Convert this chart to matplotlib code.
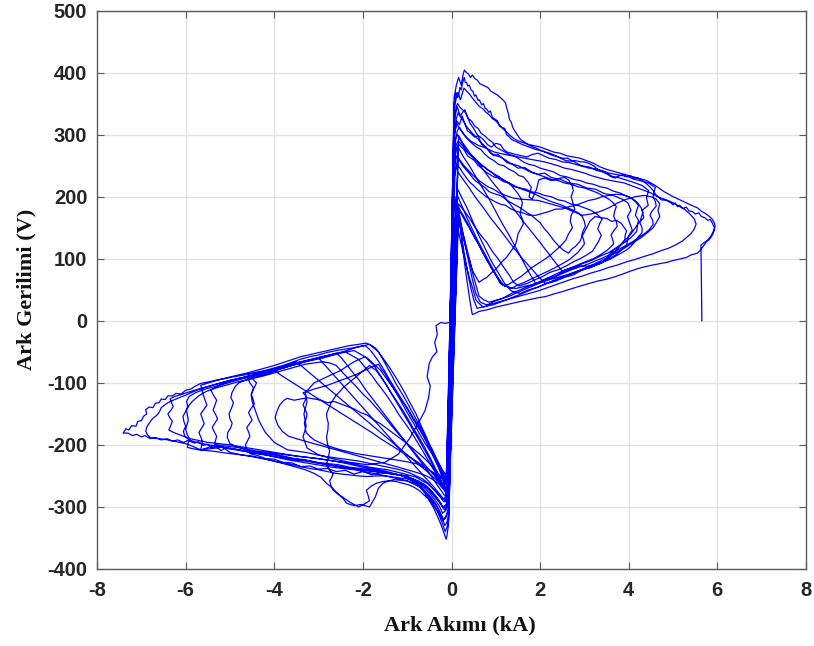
import numpy as np
import matplotlib
matplotlib.use("Agg")
import matplotlib.pyplot as plt

# Measured arc current (kA) and arc voltage (V), one list per half-cycle,
# in recording order.  Each entry is (current_kA, voltage_V).
pos_01 = [(0.07, 300), (0.12, 322), (0.18, 316), (0.24, 330), (0.30, 318), (0.36, 306), (0.44, 302),
          (0.52, 296), (0.60, 298), (0.68, 284), (0.78, 280), (0.86, 272), (0.95, 266), (1.05, 268),
          (1.15, 262), (1.25, 255), (1.38, 252), (1.50, 246), (1.65, 247), (1.80, 240), (1.95, 236),
          (2.10, 238), (2.25, 231), (2.45, 228), (2.65, 222), (2.85, 220), (3.05, 214), (3.25, 212),
          (3.45, 205), (3.65, 202), (3.85, 196), (3.98, 190), (4.05, 178), (3.97, 168), (4.02, 158),
          (4.08, 146), (3.99, 136), (3.95, 122), (3.84, 114), (3.70, 106), (3.52, 98), (3.35, 94),
          (3.15, 86), (2.95, 82), (2.75, 74), (2.55, 70), (2.35, 64), (2.15, 60), (1.95, 54), (1.75, 50),
          (1.55, 44), (1.35, 48), (1.20, 60), (1.05, 78), (0.90, 96), (0.75, 118), (0.60, 140),
          (0.48, 160), (0.35, 182), (0.22, 200), (0.12, 215)]
neg_01 = [(-0.06, -280), (-0.12, -296), (-0.20, -300), (-0.28, -292), (-0.40, -282), (-0.52, -272),
          (-0.65, -264), (-0.80, -258), (-1.00, -250), (-1.20, -248), (-1.40, -246), (-1.60, -242),
          (-1.80, -240), (-2.05, -238), (-2.30, -236), (-2.55, -232), (-2.80, -230), (-3.05, -228),
          (-3.30, -224), (-3.55, -222), (-3.80, -218), (-4.05, -215), (-4.30, -212), (-4.50, -210),
          (-4.70, -206), (-4.88, -202), (-5.00, -198), (-5.06, -188), (-5.05, -180), (-4.98, -172),
          (-4.95, -165), (-5.00, -158), (-5.02, -150), (-4.96, -140), (-4.92, -132), (-4.98, -124),
          (-4.95, -115), (-4.88, -106), (-4.80, -100), (-4.65, -96), (-4.50, -92), (-4.30, -88),
          (-4.10, -84), (-3.90, -79), (-3.70, -74), (-3.50, -70), (-3.30, -66), (-3.10, -63),
          (-2.90, -60), (-2.70, -56), (-2.50, -52), (-2.35, -50), (-2.20, -48), (-2.05, -54),
          (-1.90, -60), (-1.75, -70), (-1.60, -80), (-1.45, -95), (-1.30, -110), (-1.15, -125),
          (-1.00, -140), (-0.85, -158), (-0.70, -175), (-0.58, -190), (-0.45, -205), (-0.35, -220),
          (-0.25, -235), (-0.17, -248), (-0.10, -260)]

pos_02 = [(0.06, 350), (0.10, 368), (0.13, 360), (0.16, 362), (0.19, 376), (0.22, 372), (0.25, 384),
          (0.29, 392), (0.31, 384), (0.34, 384), (0.37, 378), (0.40, 380), (0.44, 372), (0.48, 370),
          (0.52, 362), (0.55, 364), (0.60, 355), (0.63, 356), (0.68, 348), (0.72, 350), (0.76, 342),
          (0.80, 341), (0.84, 336), (0.88, 338), (0.92, 328), (0.96, 326), (1.00, 324), (1.04, 322),
          (1.08, 314), (1.12, 312), (1.16, 311), (1.20, 310), (1.24, 300), (1.28, 298), (1.36, 292),
          (1.48, 288), (1.60, 284), (1.75, 280), (1.90, 276), (2.05, 274), (2.22, 268), (2.40, 264),
          (2.58, 258), (2.75, 257), (2.92, 250), (3.10, 248), (3.28, 242), (3.45, 240), (3.62, 233),
          (3.80, 230), (3.98, 226), (4.15, 222), (4.30, 218), (4.45, 210), (4.40, 198), (4.44, 186),
          (4.30, 178), (4.34, 166), (4.20, 156), (4.18, 144), (4.05, 134), (3.90, 126), (3.72, 118),
          (3.55, 110), (3.35, 104), (3.15, 97), (2.95, 92), (2.75, 85), (2.55, 80), (2.35, 72), (2.15, 68),
          (1.95, 61), (1.75, 56), (1.55, 50), (1.35, 44), (1.15, 36), (0.95, 31), (0.80, 24), (0.68, 22),
          (0.58, 20), (0.50, 34), (0.42, 58), (0.35, 84), (0.28, 112), (0.22, 140), (0.16, 168),
          (0.10, 200)]
neg_02 = [(-0.07, -330), (-0.10, -345), (-0.12, -352), (-0.18, -340), (-0.24, -328), (-0.30, -318),
          (-0.40, -302), (-0.50, -290), (-0.60, -278), (-0.70, -268), (-0.82, -260), (-0.95, -255),
          (-1.10, -254), (-1.30, -252), (-1.50, -250), (-1.70, -250), (-1.90, -251), (-2.10, -250),
          (-2.35, -248), (-2.60, -246), (-2.80, -243), (-3.00, -240), (-3.20, -238), (-3.40, -235),
          (-3.65, -231), (-3.90, -228), (-4.20, -223), (-4.50, -219), (-4.75, -216), (-5.00, -212),
          (-5.12, -206), (-5.20, -209), (-5.32, -203), (-5.40, -205), (-5.52, -199), (-5.60, -201),
          (-5.72, -195), (-5.80, -197), (-5.95, -193), (-6.05, -196), (-6.18, -192), (-6.30, -194),
          (-6.42, -190), (-6.55, -192), (-6.68, -188), (-6.80, -190), (-6.92, -185), (-7.00, -187),
          (-7.10, -183), (-7.20, -185), (-7.30, -181), (-7.41, -181), (-7.35, -174), (-7.28, -176),
          (-7.22, -169), (-7.12, -170), (-7.08, -162), (-7.00, -161), (-6.95, -154), (-6.88, -150),
          (-6.90, -143), (-6.82, -139), (-6.74, -140), (-6.68, -133), (-6.60, -132), (-6.55, -126),
          (-6.46, -127), (-6.40, -121), (-6.30, -121), (-6.22, -117), (-6.10, -118), (-6.00, -112),
          (-5.88, -110), (-5.80, -106), (-5.66, -101), (-5.45, -98), (-5.20, -94), (-4.90, -89),
          (-4.61, -84), (-4.30, -78), (-4.00, -72), (-3.70, -65), (-3.41, -58), (-3.10, -53),
          (-2.80, -48), (-2.55, -44), (-2.30, -40), (-2.10, -38), (-1.92, -36), (-1.80, -40),
          (-1.70, -45), (-1.55, -60), (-1.40, -75), (-1.25, -92), (-1.10, -110), (-0.95, -130),
          (-0.80, -150), (-0.68, -170), (-0.55, -190), (-0.45, -208), (-0.35, -225), (-0.26, -242),
          (-0.18, -260), (-0.12, -275), (-0.08, -290)]

pos_03 = [(0.07, 260), (0.12, 278), (0.16, 285), (0.22, 280), (0.28, 276), (0.36, 266), (0.44, 262),
          (0.52, 258), (0.60, 250), (0.68, 246), (0.77, 240), (0.86, 236), (0.95, 232), (1.05, 230),
          (1.18, 224), (1.30, 222), (1.42, 216), (1.55, 214), (1.68, 212), (1.80, 208), (1.95, 206),
          (2.10, 202), (2.25, 200), (2.40, 195), (2.55, 193), (2.70, 188), (2.85, 186), (3.00, 182),
          (3.15, 178), (3.28, 172), (3.40, 164), (3.34, 156), (3.30, 148), (3.38, 138), (3.32, 128),
          (3.25, 120), (3.18, 112), (3.05, 106), (2.90, 100), (2.75, 95), (2.58, 88), (2.40, 82),
          (2.22, 78), (2.05, 71), (1.88, 66), (1.70, 60), (1.52, 56), (1.40, 62), (1.30, 74), (1.18, 86),
          (1.05, 100), (0.92, 112), (0.80, 126), (0.66, 138), (0.52, 152), (0.40, 166), (0.28, 178),
          (0.16, 188)]
neg_03 = [(-0.06, -300), (-0.12, -314), (-0.18, -320), (-0.26, -308), (-0.35, -296), (-0.45, -286),
          (-0.55, -278), (-0.68, -268), (-0.80, -262), (-0.95, -256), (-1.10, -250), (-1.30, -246),
          (-1.50, -242), (-1.75, -239), (-2.00, -236), (-2.25, -232), (-2.50, -228), (-2.75, -225),
          (-3.00, -222), (-3.25, -220), (-3.50, -218), (-3.75, -215), (-4.00, -212), (-4.25, -209),
          (-4.50, -206), (-4.75, -203), (-5.00, -200), (-5.25, -198), (-5.50, -196), (-5.70, -193),
          (-5.90, -190), (-6.05, -186), (-6.20, -182), (-6.30, -179), (-6.38, -176), (-6.33, -168),
          (-6.30, -162), (-6.36, -156), (-6.40, -150), (-6.33, -144), (-6.28, -138), (-6.32, -132),
          (-6.35, -126), (-6.25, -122), (-6.15, -120), (-5.98, -116), (-5.80, -112), (-5.60, -108),
          (-5.40, -104), (-5.20, -100), (-5.00, -96), (-4.75, -92), (-4.50, -88), (-4.25, -83),
          (-4.00, -78), (-3.75, -73), (-3.50, -68), (-3.25, -64), (-3.00, -60), (-2.80, -76),
          (-2.60, -92), (-2.40, -108), (-2.20, -124), (-2.00, -140), (-1.80, -156), (-1.60, -172),
          (-1.40, -188), (-1.20, -204), (-1.00, -220), (-0.80, -236), (-0.60, -252), (-0.42, -266),
          (-0.26, -280), (-0.12, -292)]

pos_04 = [(0.08, 290), (0.13, 306), (0.18, 312), (0.24, 304), (0.30, 298), (0.38, 292), (0.46, 286),
          (0.56, 280), (0.66, 276), (0.76, 268), (0.86, 262), (0.96, 258), (1.06, 252), (1.18, 250),
          (1.30, 244), (1.42, 240), (1.52, 234), (1.62, 232), (1.72, 224), (1.80, 215), (1.75, 200),
          (1.82, 196), (1.92, 212), (1.97, 227), (2.10, 230), (2.25, 226), (2.40, 229), (2.55, 231),
          (2.64, 227), (2.72, 218), (2.75, 210), (2.70, 200), (2.74, 190), (2.78, 180), (2.70, 170),
          (2.68, 160), (2.73, 150), (2.64, 140), (2.58, 130), (2.48, 122), (2.36, 114), (2.22, 105),
          (2.08, 98), (1.95, 92), (1.82, 86), (1.70, 79), (1.58, 72), (1.45, 66), (1.32, 60), (1.20, 56),
          (1.08, 66), (0.96, 80), (0.84, 96), (0.72, 112), (0.60, 128), (0.48, 146), (0.36, 164),
          (0.24, 184), (0.12, 204)]
neg_04 = [(-0.07, -270), (-0.13, -284), (-0.20, -288), (-0.30, -280), (-0.40, -272), (-0.52, -262),
          (-0.65, -255), (-0.80, -250), (-0.95, -245), (-1.12, -241), (-1.30, -238), (-1.50, -235),
          (-1.70, -232), (-1.90, -229), (-2.10, -226), (-2.30, -224), (-2.50, -222), (-2.70, -220),
          (-2.90, -218), (-3.10, -215), (-3.30, -212), (-3.50, -210), (-3.70, -208), (-3.85, -202),
          (-4.00, -196), (-4.10, -188), (-4.20, -180), (-4.28, -170), (-4.35, -160), (-4.40, -150),
          (-4.45, -140), (-4.50, -130), (-4.52, -120), (-4.47, -108), (-4.55, -100), (-4.60, -92),
          (-4.45, -89), (-4.30, -86), (-4.10, -82), (-3.90, -78), (-3.70, -74), (-3.50, -70),
          (-3.30, -66), (-3.10, -62), (-2.90, -58), (-2.70, -55), (-2.55, -52), (-2.40, -50),
          (-2.25, -56), (-2.10, -62), (-1.95, -75), (-1.80, -88), (-1.68, -100), (-1.55, -112),
          (-1.42, -125), (-1.30, -138), (-1.18, -152), (-1.05, -165), (-0.92, -178), (-0.80, -192),
          (-0.68, -206), (-0.55, -222), (-0.42, -238), (-0.30, -252), (-0.20, -264), (-0.10, -275)]

pos_05 = [(0.06, 360), (0.11, 380), (0.16, 392), (0.22, 380), (0.26, 396), (0.29, 404), (0.34, 400),
          (0.38, 398), (0.43, 392), (0.47, 396), (0.53, 390), (0.58, 388), (0.64, 382), (0.70, 380),
          (0.76, 378), (0.82, 376), (0.89, 370), (0.96, 367), (1.03, 364), (1.10, 360), (1.16, 356),
          (1.22, 351), (1.24, 344), (1.26, 340), (1.29, 332), (1.31, 324), (1.35, 320), (1.38, 312),
          (1.41, 308), (1.48, 300), (1.56, 292), (1.65, 288), (1.72, 284), (1.81, 281), (1.92, 278),
          (2.02, 274), (2.10, 272), (2.22, 270), (2.35, 266), (2.49, 262), (2.62, 262), (2.72, 258),
          (2.80, 258), (2.92, 256), (3.00, 256), (3.09, 254), (3.20, 250), (3.30, 244), (3.40, 240),
          (3.52, 236), (3.60, 232), (3.69, 230), (3.80, 234), (3.88, 235), (3.95, 232), (4.05, 233),
          (4.12, 230), (4.21, 230), (4.30, 226), (4.38, 222), (4.43, 219), (4.50, 214), (4.55, 210),
          (4.60, 204), (4.66, 200), (4.73, 195), (4.85, 194), (4.95, 190), (5.00, 187), (5.05, 190),
          (5.10, 184), (5.15, 186), (5.22, 181), (5.30, 183), (5.36, 177), (5.44, 176), (5.50, 172),
          (5.58, 174), (5.64, 168), (5.72, 166), (5.78, 162), (5.84, 163), (5.89, 157), (5.93, 150),
          (5.92, 146), (5.88, 140), (5.85, 136), (5.78, 130), (5.70, 122), (5.62, 114), (5.55, 109),
          (5.40, 106), (5.30, 102), (5.18, 100), (5.00, 97), (4.85, 94), (4.70, 92), (4.55, 90),
          (4.36, 87), (4.20, 84), (4.00, 79), (3.85, 75), (3.69, 71), (3.50, 67), (3.30, 64), (3.10, 60),
          (2.86, 55), (2.68, 51), (2.50, 47), (2.30, 43), (2.12, 39), (1.95, 37), (1.75, 34), (1.55, 31),
          (1.37, 28), (1.20, 25), (1.00, 22), (0.82, 18), (0.62, 15), (0.54, 12), (0.47, 10), (0.44, 22),
          (0.40, 40), (0.35, 64), (0.30, 90), (0.25, 120), (0.20, 150), (0.16, 176), (0.12, 200)]
neg_05 = [(-0.06, -310), (-0.10, -324), (-0.15, -330), (-0.22, -316), (-0.32, -300), (-0.42, -290),
          (-0.52, -282), (-0.62, -274), (-0.75, -266), (-0.88, -262), (-1.00, -258), (-1.15, -257),
          (-1.30, -256), (-1.42, -258), (-1.55, -262), (-1.65, -270), (-1.72, -284), (-1.85, -300),
          (-1.95, -298), (-2.05, -296), (-2.20, -298), (-2.37, -294), (-2.45, -286), (-2.55, -280),
          (-2.68, -270), (-2.82, -262), (-2.95, -252), (-3.10, -246), (-3.30, -240), (-3.50, -236),
          (-3.75, -231), (-4.00, -226), (-4.25, -222), (-4.50, -218), (-4.75, -216), (-5.00, -214),
          (-5.20, -212), (-5.40, -210), (-5.55, -209), (-5.70, -208), (-5.85, -206), (-5.96, -204),
          (-5.94, -196), (-5.92, -190), (-5.97, -182), (-6.00, -175), (-5.97, -168), (-5.94, -160),
          (-5.96, -152), (-5.98, -144), (-5.92, -136), (-5.85, -130), (-5.72, -122), (-5.60, -116),
          (-5.40, -110), (-5.20, -106), (-5.00, -102), (-4.80, -98), (-4.55, -94), (-4.30, -90),
          (-4.05, -85), (-3.80, -80), (-3.55, -75), (-3.30, -70), (-3.10, -68), (-2.90, -66),
          (-2.75, -68), (-2.60, -72), (-2.45, -84), (-2.30, -95), (-2.15, -106), (-2.00, -118),
          (-1.85, -128), (-1.70, -140), (-1.55, -152), (-1.40, -165), (-1.25, -178), (-1.10, -190),
          (-0.95, -202), (-0.80, -215), (-0.65, -228), (-0.50, -240), (-0.38, -250), (-0.25, -262),
          (-0.15, -274), (-0.08, -285)]

pos_06 = [(0.07, 330), (0.11, 346), (0.14, 350), (0.19, 344), (0.22, 342), (0.28, 338), (0.32, 335),
          (0.38, 326), (0.45, 322), (0.52, 314), (0.60, 310), (0.67, 302), (0.75, 298), (0.84, 292),
          (0.92, 288), (1.00, 280), (1.10, 276), (1.20, 272), (1.30, 268), (1.40, 266), (1.50, 262),
          (1.62, 256), (1.75, 252), (1.88, 250), (2.00, 246), (2.15, 243), (2.30, 240), (2.45, 234),
          (2.60, 232), (2.75, 228), (2.90, 226), (3.05, 222), (3.20, 220), (3.35, 216), (3.50, 214),
          (3.65, 209), (3.80, 206), (3.92, 202), (4.05, 198), (4.15, 192), (4.22, 186), (4.18, 178),
          (4.15, 170), (4.22, 162), (4.20, 155), (4.12, 147), (4.05, 140), (3.98, 134), (3.91, 130),
          (3.78, 120), (3.60, 110), (3.50, 100), (3.39, 93), (3.20, 90), (3.05, 88), (2.90, 88),
          (2.79, 87), (2.65, 84), (2.50, 80), (2.35, 75), (2.20, 70), (2.05, 65), (1.90, 60), (1.75, 78),
          (1.60, 98), (1.45, 118), (1.30, 138), (1.15, 156), (1.00, 176), (0.85, 196), (0.70, 214),
          (0.55, 232), (0.40, 250), (0.27, 264), (0.15, 280)]
neg_06 = [(-0.07, -295), (-0.13, -306), (-0.20, -310), (-0.28, -298), (-0.38, -288), (-0.48, -279),
          (-0.60, -270), (-0.74, -262), (-0.88, -256), (-1.04, -252), (-1.20, -248), (-1.40, -246),
          (-1.60, -244), (-1.80, -242), (-2.00, -240), (-2.20, -238), (-2.40, -236), (-2.60, -234),
          (-2.80, -232), (-3.00, -229), (-3.20, -226), (-3.40, -224), (-3.60, -222), (-3.80, -219),
          (-4.00, -216), (-4.20, -214), (-4.40, -212), (-4.60, -210), (-4.80, -208), (-4.95, -206),
          (-5.10, -205), (-5.22, -202), (-5.35, -200), (-5.32, -192), (-5.30, -186), (-5.36, -178),
          (-5.40, -172), (-5.33, -164), (-5.28, -158), (-5.33, -150), (-5.38, -144), (-5.34, -136),
          (-5.30, -128), (-5.37, -120), (-5.43, -112), (-5.32, -107), (-5.20, -102), (-5.00, -98),
          (-4.80, -94), (-4.60, -91), (-4.40, -88), (-4.20, -84), (-4.00, -80), (-3.80, -90),
          (-3.60, -99), (-3.40, -108), (-3.20, -117), (-3.00, -126), (-2.80, -135), (-2.60, -144),
          (-2.40, -153), (-2.20, -162), (-2.00, -171), (-1.80, -180), (-1.60, -190), (-1.40, -199),
          (-1.20, -208), (-1.00, -217), (-0.80, -226), (-0.60, -236), (-0.42, -244), (-0.26, -252),
          (-0.12, -258)]

pos_07 = [(0.08, 240), (0.12, 254), (0.15, 262), (0.20, 256), (0.25, 250), (0.32, 244), (0.40, 238),
          (0.48, 230), (0.55, 225), (0.65, 220), (0.75, 215), (0.85, 208), (0.95, 205), (1.05, 203),
          (1.15, 200), (1.25, 194), (1.35, 190), (1.45, 186), (1.55, 182), (1.67, 176), (1.80, 170),
          (1.90, 164), (2.00, 158), (2.10, 148), (2.20, 140), (2.30, 130), (2.40, 122), (2.52, 114),
          (2.64, 109), (2.72, 116), (2.80, 120), (2.90, 128), (2.96, 138), (3.05, 150), (3.12, 160),
          (3.24, 168), (3.38, 166), (3.50, 165), (3.62, 160), (3.72, 162), (3.83, 157), (3.90, 150),
          (3.95, 145), (3.92, 138), (3.91, 130), (3.80, 120), (3.70, 112), (3.55, 102), (3.39, 93),
          (3.20, 88), (3.00, 84), (2.80, 79), (2.60, 74), (2.40, 70), (2.20, 66), (2.00, 62), (1.80, 58),
          (1.62, 55), (1.45, 52), (1.30, 54), (1.15, 58), (1.02, 72), (0.90, 85), (0.78, 100), (0.65, 118),
          (0.52, 134), (0.40, 150), (0.30, 162), (0.20, 175), (0.10, 195)]
neg_07 = [(-0.06, -250), (-0.11, -260), (-0.18, -265), (-0.26, -258), (-0.35, -250), (-0.45, -244),
          (-0.55, -238), (-0.68, -234), (-0.80, -230), (-0.95, -228), (-1.10, -226), (-1.28, -224),
          (-1.45, -222), (-1.62, -220), (-1.80, -218), (-1.98, -216), (-2.15, -214), (-2.32, -211),
          (-2.50, -208), (-2.68, -204), (-2.85, -200), (-2.98, -196), (-3.10, -192), (-3.20, -186),
          (-3.28, -180), (-3.30, -172), (-3.32, -165), (-3.28, -158), (-3.26, -150), (-3.31, -142),
          (-3.35, -135), (-3.30, -128), (-3.28, -122), (-3.35, -116), (-3.22, -113), (-3.10, -110),
          (-2.95, -107), (-2.80, -104), (-2.65, -100), (-2.50, -96), (-2.35, -92), (-2.20, -88),
          (-2.05, -83), (-1.90, -78), (-1.78, -74), (-1.65, -70), (-1.58, -78), (-1.50, -85),
          (-1.40, -98), (-1.30, -110), (-1.20, -122), (-1.10, -135), (-1.00, -148), (-0.90, -160),
          (-0.80, -172), (-0.70, -185), (-0.59, -198), (-0.48, -210), (-0.36, -222), (-0.25, -235),
          (-0.16, -245), (-0.10, -252)]

pos_08 = [(0.06, 320), (0.10, 336), (0.13, 345), (0.17, 336), (0.20, 330), (0.25, 336), (0.30, 340),
          (0.36, 328), (0.42, 318), (0.50, 310), (0.58, 300), (0.65, 296), (0.72, 292), (0.81, 284),
          (0.90, 280), (1.00, 286), (1.10, 284), (1.18, 276), (1.25, 272), (1.35, 270), (1.45, 268),
          (1.58, 266), (1.70, 264), (1.82, 268), (1.95, 270), (2.08, 266), (2.20, 262), (2.35, 260),
          (2.50, 256), (2.65, 255), (2.80, 252), (2.95, 249), (3.10, 246), (3.25, 245), (3.40, 242),
          (3.55, 238), (3.70, 236), (3.85, 234), (4.00, 232), (4.12, 228), (4.25, 226), (4.35, 224),
          (4.45, 222), (4.53, 218), (4.60, 215), (4.57, 207), (4.55, 200), (4.60, 192), (4.62, 185),
          (4.52, 176), (4.48, 170), (4.54, 162), (4.55, 155), (4.45, 146), (4.35, 140), (4.22, 134),
          (4.10, 128), (3.95, 122), (3.80, 116), (3.65, 110), (3.50, 104), (3.30, 98), (3.10, 92),
          (2.90, 87), (2.70, 82), (2.50, 76), (2.30, 70), (2.10, 64), (1.90, 58), (1.70, 52), (1.50, 46),
          (1.32, 40), (1.15, 36), (1.00, 33), (0.85, 30), (0.72, 34), (0.62, 40), (0.55, 58), (0.48, 76),
          (0.42, 95), (0.36, 112), (0.30, 130), (0.22, 150), (0.16, 170)]
neg_08 = [(-0.06, -290), (-0.11, -300), (-0.16, -305), (-0.24, -295), (-0.32, -286), (-0.42, -278),
          (-0.52, -270), (-0.65, -264), (-0.78, -258), (-0.92, -254), (-1.05, -250), (-1.22, -248),
          (-1.40, -246), (-1.60, -245), (-1.80, -248), (-2.00, -243), (-2.20, -247), (-2.40, -241),
          (-2.60, -243), (-2.80, -238), (-3.00, -239), (-3.20, -234), (-3.40, -235), (-3.60, -229),
          (-3.80, -228), (-4.00, -223), (-4.20, -222), (-4.38, -217), (-4.55, -214), (-4.62, -207),
          (-4.65, -200), (-4.60, -193), (-4.55, -186), (-4.58, -179), (-4.62, -172), (-4.56, -166),
          (-4.50, -160), (-4.54, -154), (-4.58, -148), (-4.52, -141), (-4.45, -134), (-4.48, -126),
          (-4.52, -118), (-4.46, -109), (-4.40, -100), (-4.50, -93), (-4.61, -86), (-4.40, -83),
          (-4.20, -80), (-4.00, -76), (-3.80, -72), (-3.60, -67), (-3.41, -62), (-3.20, -58),
          (-3.00, -55), (-2.80, -51), (-2.60, -48), (-2.42, -46), (-2.25, -44), (-2.10, -42),
          (-1.95, -40), (-1.85, -46), (-1.75, -55), (-1.62, -68), (-1.50, -82), (-1.38, -97),
          (-1.25, -112), (-1.12, -127), (-1.00, -142), (-0.88, -157), (-0.75, -172), (-0.62, -188),
          (-0.50, -205), (-0.39, -222), (-0.28, -238), (-0.18, -253), (-0.10, -268)]

pos_09 = [(0.07, 280), (0.10, 294), (0.14, 300), (0.18, 296), (0.22, 290), (0.27, 282), (0.32, 276),
          (0.38, 270), (0.45, 266), (0.52, 260), (0.60, 256), (0.67, 250), (0.75, 248), (0.82, 243),
          (0.90, 240), (0.98, 234), (1.05, 232), (1.12, 229), (1.20, 226), (1.28, 222), (1.35, 218),
          (1.42, 212), (1.50, 205), (1.56, 198), (1.60, 190), (1.57, 180), (1.55, 172), (1.60, 164),
          (1.62, 156), (1.56, 148), (1.50, 140), (1.48, 132), (1.45, 124), (1.38, 116), (1.32, 110),
          (1.24, 102), (1.15, 96), (1.06, 88), (0.98, 82), (0.88, 76), (0.80, 70), (0.70, 66), (0.62, 62),
          (0.56, 70), (0.48, 80), (0.42, 94), (0.35, 110), (0.28, 130), (0.22, 150), (0.16, 168),
          (0.12, 185)]
neg_09 = [(-0.07, -305), (-0.13, -318), (-0.20, -322), (-0.28, -310), (-0.38, -300), (-0.48, -290),
          (-0.60, -282), (-0.72, -274), (-0.85, -268), (-0.98, -264), (-1.10, -262), (-1.25, -259),
          (-1.40, -258), (-1.55, -259), (-1.70, -262), (-1.80, -266), (-1.92, -273), (-1.88, -282),
          (-1.85, -290), (-1.98, -296), (-2.10, -300), (-2.20, -296), (-2.30, -292), (-2.40, -287),
          (-2.50, -282), (-2.58, -278), (-2.67, -273), (-2.72, -266), (-2.75, -258), (-2.70, -252),
          (-2.67, -246), (-2.76, -240), (-2.82, -232), (-2.78, -220), (-2.75, -210), (-2.80, -198),
          (-2.82, -187), (-2.79, -176), (-2.78, -165), (-2.81, -157), (-2.82, -150), (-2.77, -141),
          (-2.72, -132), (-2.66, -126), (-2.60, -120), (-2.52, -114), (-2.45, -108), (-2.35, -102),
          (-2.25, -96), (-2.15, -90), (-2.05, -84), (-1.95, -78), (-1.85, -72), (-1.78, -76),
          (-1.70, -80), (-1.60, -90), (-1.50, -100), (-1.38, -114), (-1.25, -128), (-1.12, -142),
          (-1.00, -156), (-0.88, -171), (-0.75, -186), (-0.62, -202), (-0.50, -218), (-0.39, -234),
          (-0.28, -250), (-0.19, -265), (-0.11, -280)]

pos_10 = [(0.06, 230), (0.10, 244), (0.14, 250), (0.19, 246), (0.24, 240), (0.30, 234), (0.36, 228),
          (0.43, 222), (0.50, 218), (0.58, 212), (0.68, 206), (0.78, 200), (0.88, 196), (0.98, 192),
          (1.10, 188), (1.22, 186), (1.35, 180), (1.48, 176), (1.60, 174), (1.75, 170), (1.90, 170),
          (2.05, 173), (2.20, 176), (2.35, 180), (2.50, 180), (2.65, 184), (2.80, 186), (2.95, 190),
          (3.10, 194), (3.25, 196), (3.40, 200), (3.55, 202), (3.70, 204), (3.85, 203), (4.00, 200),
          (4.10, 196), (4.20, 190), (4.28, 182), (4.32, 175), (4.28, 166), (4.25, 158), (4.30, 150),
          (4.30, 142), (4.20, 134), (4.12, 126), (4.05, 120), (3.95, 114), (3.80, 108), (3.60, 100),
          (3.40, 94), (3.20, 88), (3.00, 83), (2.80, 78), (2.60, 73), (2.40, 68), (2.20, 62), (2.00, 56),
          (1.80, 50), (1.60, 44), (1.42, 39), (1.25, 34), (1.10, 30), (0.95, 26), (0.82, 24), (0.72, 22),
          (0.62, 28), (0.55, 34), (0.48, 52), (0.40, 70), (0.33, 90), (0.26, 110), (0.20, 130),
          (0.14, 150)]
neg_10 = [(-0.06, -275), (-0.11, -286), (-0.17, -292), (-0.25, -284), (-0.34, -276), (-0.44, -269),
          (-0.55, -262), (-0.68, -257), (-0.80, -252), (-0.95, -249), (-1.10, -246), (-1.28, -243),
          (-1.45, -240), (-1.65, -238), (-1.85, -236), (-2.05, -233), (-2.25, -230), (-2.45, -228),
          (-2.65, -226), (-2.85, -224), (-3.05, -222), (-3.28, -220), (-3.50, -218), (-3.72, -216),
          (-3.95, -214), (-4.18, -212), (-4.40, -210), (-4.62, -207), (-4.85, -204), (-5.08, -202),
          (-5.30, -200), (-5.48, -204), (-5.66, -208), (-5.64, -201), (-5.62, -194), (-5.66, -187),
          (-5.70, -180), (-5.64, -173), (-5.58, -166), (-5.62, -158), (-5.66, -150), (-5.59, -143),
          (-5.52, -136), (-5.56, -128), (-5.60, -120), (-5.63, -112), (-5.66, -104), (-5.48, -100),
          (-5.30, -96), (-5.10, -93), (-4.90, -90), (-4.65, -87), (-4.40, -84), (-4.15, -80),
          (-3.90, -76), (-3.65, -71), (-3.40, -66), (-3.15, -62), (-2.90, -58), (-2.68, -54),
          (-2.45, -50), (-2.28, -46), (-2.10, -42), (-1.98, -40), (-1.85, -38), (-1.75, -44),
          (-1.65, -50), (-1.55, -62), (-1.45, -75), (-1.35, -88), (-1.25, -102), (-1.12, -117),
          (-1.00, -132), (-0.88, -148), (-0.75, -165), (-0.62, -182), (-0.50, -200), (-0.40, -216),
          (-0.30, -232), (-0.20, -247), (-0.12, -262)]

pos_11 = [(0.07, 310), (0.11, 326), (0.15, 335), (0.19, 330), (0.24, 325), (0.30, 318), (0.35, 312),
          (0.42, 306), (0.50, 300), (0.58, 294), (0.66, 288), (0.74, 282), (0.82, 276), (0.90, 270),
          (1.00, 266), (1.10, 264), (1.20, 260), (1.30, 255), (1.40, 252), (1.50, 250), (1.62, 246),
          (1.74, 241), (1.85, 238), (1.98, 235), (2.10, 232), (2.25, 228), (2.40, 226), (2.55, 222),
          (2.70, 220), (2.85, 216), (3.00, 214), (3.15, 210), (3.30, 206), (3.42, 201), (3.55, 196),
          (3.65, 190), (3.72, 184), (3.68, 176), (3.66, 168), (3.72, 160), (3.74, 152), (3.66, 145),
          (3.60, 138), (3.64, 130), (3.66, 124), (3.58, 118), (3.48, 112), (3.35, 106), (3.20, 100),
          (3.02, 95), (2.85, 90), (2.68, 85), (2.50, 80), (2.32, 96), (2.15, 112), (1.98, 128),
          (1.80, 144), (1.62, 160), (1.45, 176), (1.28, 192), (1.10, 208), (0.92, 224), (0.75, 240),
          (0.58, 256), (0.42, 270), (0.28, 284), (0.16, 296)]
neg_11 = [(-0.06, -320), (-0.10, -332), (-0.14, -340), (-0.22, -324), (-0.30, -310), (-0.40, -296),
          (-0.50, -285), (-0.60, -276), (-0.72, -268), (-0.86, -262), (-1.00, -258), (-1.18, -255),
          (-1.35, -252), (-1.55, -249), (-1.75, -246), (-1.98, -243), (-2.20, -240), (-2.45, -238),
          (-2.70, -236), (-2.95, -233), (-3.20, -230), (-3.45, -227), (-3.70, -224), (-3.95, -220),
          (-4.20, -216), (-4.45, -213), (-4.70, -210), (-4.95, -207), (-5.20, -204), (-5.42, -206),
          (-5.66, -208), (-5.85, -202), (-6.00, -198), (-6.20, -195), (-6.40, -192), (-6.60, -190),
          (-6.78, -189), (-6.86, -184), (-6.90, -178), (-6.88, -172), (-6.85, -168), (-6.80, -163),
          (-6.75, -158), (-6.68, -154), (-6.62, -150), (-6.58, -145), (-6.55, -140), (-6.48, -136),
          (-6.40, -132), (-6.28, -128), (-6.15, -124), (-6.00, -120), (-5.85, -115), (-5.68, -110),
          (-5.50, -106), (-5.25, -101), (-5.00, -96), (-4.75, -92), (-4.50, -88), (-4.25, -83),
          (-4.00, -78), (-3.75, -72), (-3.50, -66), (-3.30, -78), (-3.10, -90), (-2.90, -102),
          (-2.70, -114), (-2.50, -126), (-2.30, -138), (-2.10, -150), (-1.90, -162), (-1.70, -174),
          (-1.50, -186), (-1.30, -198), (-1.10, -210), (-0.90, -222), (-0.70, -234), (-0.50, -246),
          (-0.32, -258), (-0.18, -266), (-0.10, -272)]

pos_12 = [(0.07, 270), (0.11, 284), (0.15, 290), (0.20, 286), (0.25, 282), (0.31, 276), (0.38, 270),
          (0.45, 266), (0.52, 262), (0.61, 256), (0.70, 250), (0.79, 245), (0.88, 240), (0.98, 236),
          (1.08, 232), (1.19, 226), (1.30, 222), (1.41, 218), (1.52, 214), (1.63, 211), (1.75, 208),
          (1.88, 204), (2.00, 200), (2.12, 196), (2.25, 192), (2.38, 189), (2.50, 186), (2.62, 182),
          (2.75, 178), (2.86, 174), (2.95, 168), (3.00, 160), (3.02, 152), (2.97, 145), (2.94, 138),
          (2.98, 131), (3.00, 124), (2.93, 117), (2.85, 110), (2.75, 104), (2.65, 98), (2.50, 92),
          (2.35, 86), (2.18, 80), (2.00, 74), (1.82, 68), (1.65, 62), (1.50, 58), (1.35, 52), (1.22, 56),
          (1.10, 60), (0.98, 76), (0.85, 92), (0.72, 108), (0.60, 125), (0.48, 140), (0.38, 155),
          (0.28, 168), (0.18, 180), (0.10, 170), (0.05, 150), (0.03, 100), (0.02, 50)]
neg_12 = [(0.00, -2), (-0.13, -4), (-0.25, -3), (-0.35, -8), (-0.32, -22), (-0.38, -35), (-0.33, -50),
          (-0.43, -58), (-0.50, -68), (-0.55, -90), (-0.48, -105), (-0.52, -125), (-0.60, -145),
          (-0.75, -165), (-0.95, -190), (-1.20, -215), (-1.50, -228), (-1.90, -232), (-2.30, -228),
          (-2.70, -222), (-3.00, -216), (-3.26, -205), (-3.35, -187), (-3.28, -170), (-3.33, -150),
          (-3.26, -130), (-3.30, -116), (-3.10, -100), (-2.80, -90), (-2.50, -80), (-2.20, -66),
          (-1.95, -58), (-1.75, -72), (-1.50, -100), (-1.25, -130), (-1.00, -160), (-0.75, -190),
          (-0.50, -222), (-0.28, -252), (-0.10, -278)]

pos_13 = [(0.06, 300), (0.12, 318), (0.18, 310), (0.25, 304), (0.33, 296), (0.42, 290), (0.52, 286),
          (0.62, 282), (0.72, 280), (0.84, 276), (0.96, 272), (1.08, 270), (1.20, 268), (1.35, 266),
          (1.50, 264), (1.65, 262), (1.80, 260), (1.95, 258), (2.10, 256), (2.25, 253), (2.40, 250),
          (2.55, 246), (2.70, 244), (2.85, 241), (3.00, 238), (3.15, 234), (3.30, 231), (3.45, 228),
          (3.60, 226), (3.75, 224), (3.90, 222), (4.05, 218), (4.20, 214), (4.35, 210), (4.50, 206),
          (4.65, 200), (4.80, 196), (4.95, 192), (5.10, 186), (5.25, 180), (5.38, 172), (5.48, 164),
          (5.52, 156), (5.48, 148), (5.40, 140), (5.30, 134), (5.20, 128), (5.05, 122), (4.90, 117),
          (4.73, 113), (4.55, 108), (4.36, 104), (4.15, 99), (3.95, 95), (3.75, 90), (3.55, 86),
          (3.35, 81), (3.15, 77), (2.95, 72), (2.75, 68), (2.55, 63), (2.35, 58), (2.15, 53), (1.95, 48),
          (1.75, 44), (1.55, 40), (1.35, 36), (1.15, 32), (0.95, 28), (0.78, 26), (0.65, 30), (0.55, 44),
          (0.46, 70), (0.38, 98), (0.30, 126), (0.22, 156), (0.14, 185)]
neg_13 = [(-0.07, -285), (-0.12, -298), (-0.18, -302), (-0.26, -292), (-0.36, -282), (-0.48, -272),
          (-0.60, -264), (-0.75, -258), (-0.90, -254), (-1.06, -250), (-1.25, -248), (-1.45, -246),
          (-1.65, -244), (-1.85, -242), (-2.05, -240), (-2.30, -238), (-2.55, -235), (-2.80, -232),
          (-3.05, -229), (-3.30, -226), (-3.55, -224), (-3.80, -221), (-4.05, -218), (-4.30, -215),
          (-4.55, -212), (-4.80, -208), (-5.05, -205), (-5.30, -202), (-5.55, -199), (-5.75, -196),
          (-5.92, -192), (-6.02, -186), (-6.05, -178), (-6.00, -170), (-6.04, -162), (-6.06, -154),
          (-6.00, -146), (-5.95, -138), (-5.98, -130), (-5.92, -122), (-5.78, -116), (-5.60, -111),
          (-5.40, -107), (-5.18, -103), (-4.95, -98), (-4.70, -93), (-4.45, -89), (-4.20, -84),
          (-3.95, -79), (-3.70, -74), (-3.45, -68), (-3.20, -63), (-2.95, -58), (-2.75, -55),
          (-2.60, -52), (-2.48, -60), (-2.35, -72), (-2.22, -84), (-2.08, -96), (-1.95, -110),
          (-1.80, -124), (-1.65, -138), (-1.50, -152), (-1.35, -166), (-1.20, -180), (-1.05, -194),
          (-0.90, -208), (-0.75, -222), (-0.60, -236), (-0.46, -250), (-0.33, -264), (-0.21, -276),
          (-0.12, -285)]

pos_14 = [(0.07, 250), (0.12, 266), (0.18, 260), (0.26, 252), (0.36, 244), (0.46, 236), (0.58, 228),
          (0.70, 222), (0.82, 216), (0.95, 212), (1.08, 206), (1.22, 202), (1.38, 198), (1.55, 196),
          (1.75, 195), (1.95, 194), (2.15, 190), (2.35, 186), (2.55, 182), (2.75, 176), (2.95, 170),
          (3.15, 172), (3.35, 176), (3.55, 182), (3.75, 190), (3.95, 196), (4.15, 200), (4.35, 202),
          (4.50, 200), (4.62, 196), (4.70, 188), (4.66, 178), (4.70, 168), (4.62, 158), (4.55, 150),
          (4.42, 142), (4.28, 134), (4.10, 126), (3.92, 118), (3.72, 110), (3.52, 102), (3.32, 95),
          (3.12, 88), (2.92, 82), (2.72, 76), (2.52, 70), (2.32, 64), (2.12, 60), (1.95, 72), (1.78, 86),
          (1.60, 100), (1.42, 116), (1.25, 132), (1.08, 148), (0.90, 164), (0.72, 182), (0.55, 198),
          (0.40, 214), (0.26, 228), (0.14, 240)]
neg_14 = [(-0.06, -265), (-0.12, -276), (-0.20, -270), (-0.30, -262), (-0.42, -256), (-0.56, -250),
          (-0.72, -246), (-0.90, -242), (-1.10, -238), (-1.30, -234), (-1.50, -230), (-1.70, -226),
          (-1.90, -222), (-2.10, -218), (-2.30, -214), (-2.50, -210), (-2.70, -206), (-2.90, -202),
          (-3.10, -198), (-3.30, -194), (-3.50, -190), (-3.68, -186), (-3.82, -178), (-3.92, -168),
          (-3.98, -156), (-3.94, -146), (-3.88, -136), (-3.78, -128), (-3.71, -125), (-3.55, -128),
          (-3.40, -126), (-3.25, -124), (-3.10, -126), (-2.95, -128), (-2.80, -132), (-2.65, -130),
          (-2.50, -134), (-2.35, -138), (-2.20, -142), (-2.05, -148), (-1.90, -152), (-1.75, -160),
          (-1.60, -166), (-1.45, -174), (-1.30, -182), (-1.15, -190), (-1.00, -198), (-0.85, -207),
          (-0.70, -216), (-0.55, -226), (-0.42, -236), (-0.30, -246), (-0.19, -256), (-0.11, -264)]

pos_15 = [(0.06, 340), (0.10, 356), (0.14, 368), (0.20, 356), (0.28, 375), (0.34, 370), (0.40, 366),
          (0.48, 358), (0.55, 352), (0.62, 346), (0.70, 342), (0.78, 336), (0.85, 332), (0.92, 326),
          (1.00, 322), (1.08, 316), (1.15, 310), (1.22, 306), (1.30, 300), (1.40, 294), (1.50, 290),
          (1.62, 287), (1.75, 284), (1.88, 282), (2.00, 280), (2.15, 276), (2.30, 272), (2.45, 270),
          (2.60, 266), (2.75, 264), (2.90, 262), (3.05, 258), (3.20, 254), (3.35, 248), (3.50, 244),
          (3.65, 241), (3.80, 238), (3.95, 235), (4.10, 232), (4.25, 229), (4.40, 226), (4.50, 222),
          (4.60, 218), (4.70, 213), (4.80, 208), (4.90, 204), (5.00, 200), (5.15, 195), (5.30, 190),
          (5.42, 186), (5.55, 182), (5.65, 176), (5.75, 172), (5.82, 168), (5.88, 164), (5.93, 158),
          (5.95, 152), (5.93, 146), (5.90, 140), (5.85, 134), (5.80, 130), (5.75, 128), (5.70, 126),
          (5.63, 122), (5.64, 60), (5.65, 0)]

half_cycles = [pos_01, neg_01, pos_02, neg_02, pos_03, neg_03, pos_04, neg_04,
               pos_05, neg_05, pos_06, neg_06, pos_07, neg_07, pos_08, neg_08,
               pos_09, neg_09, pos_10, neg_10, pos_11, neg_11, pos_12, neg_12,
               pos_13, neg_13, pos_14, neg_14, pos_15]

x_ticks = [-8, -6, -4, -2, 0, 2, 4, 6, 8]
y_ticks = [-400, -300, -200, -100, 0, 100, 200, 300, 400, 500]

trace = np.array([pt for hc in half_cycles for pt in hc], dtype=float)
current_kA = trace[:, 0]
voltage_V = trace[:, 1]

fig = plt.figure(figsize=(8.14, 6.46), dpi=100)
ax = fig.add_axes([97 / 814, 77 / 646, 709 / 814, 558.5 / 646])

ax.plot(current_kA, voltage_V, color="#0000ff", linewidth=0.9, solid_joinstyle="round")

ax.set_xlim(-8, 8)
ax.set_ylim(-400, 500)
ax.set_xticks(x_ticks)
ax.set_yticks(y_ticks)
ax.set_xticklabels([str(t) for t in x_ticks])
ax.set_yticklabels([str(t) for t in y_ticks])

ax.grid(True, color="#e3e3e3", linewidth=1.0, linestyle="-")
ax.set_axisbelow(True)
for s in ax.spines.values():
    s.set_color("#5a5a5a")
    s.set_linewidth(1.0)

ax.tick_params(axis="both", direction="in", length=5, width=0.8, color="#5a5a5a",
               labelcolor="#262626", top=True, right=True)
ax.tick_params(axis="x", pad=9)
ax.tick_params(axis="y", pad=7)
for lbl in ax.get_xticklabels() + ax.get_yticklabels():
    lbl.set_fontfamily("Liberation Sans")
    lbl.set_fontweight("bold")
    lbl.set_fontsize(14.5)

label_font = {"family": "Liberation Serif", "weight": "bold", "size": 16, "color": "#111111"}
ax.set_xlabel("Ark Akımı (kA)", fontdict=label_font)
ax.set_ylabel("Ark Gerilimi (V)", fontdict=label_font)
ax.xaxis.set_label_coords(0.512, -0.084)
ax.yaxis.set_label_coords(-0.086, 0.5)

fig.savefig("out.png", dpi=100)
